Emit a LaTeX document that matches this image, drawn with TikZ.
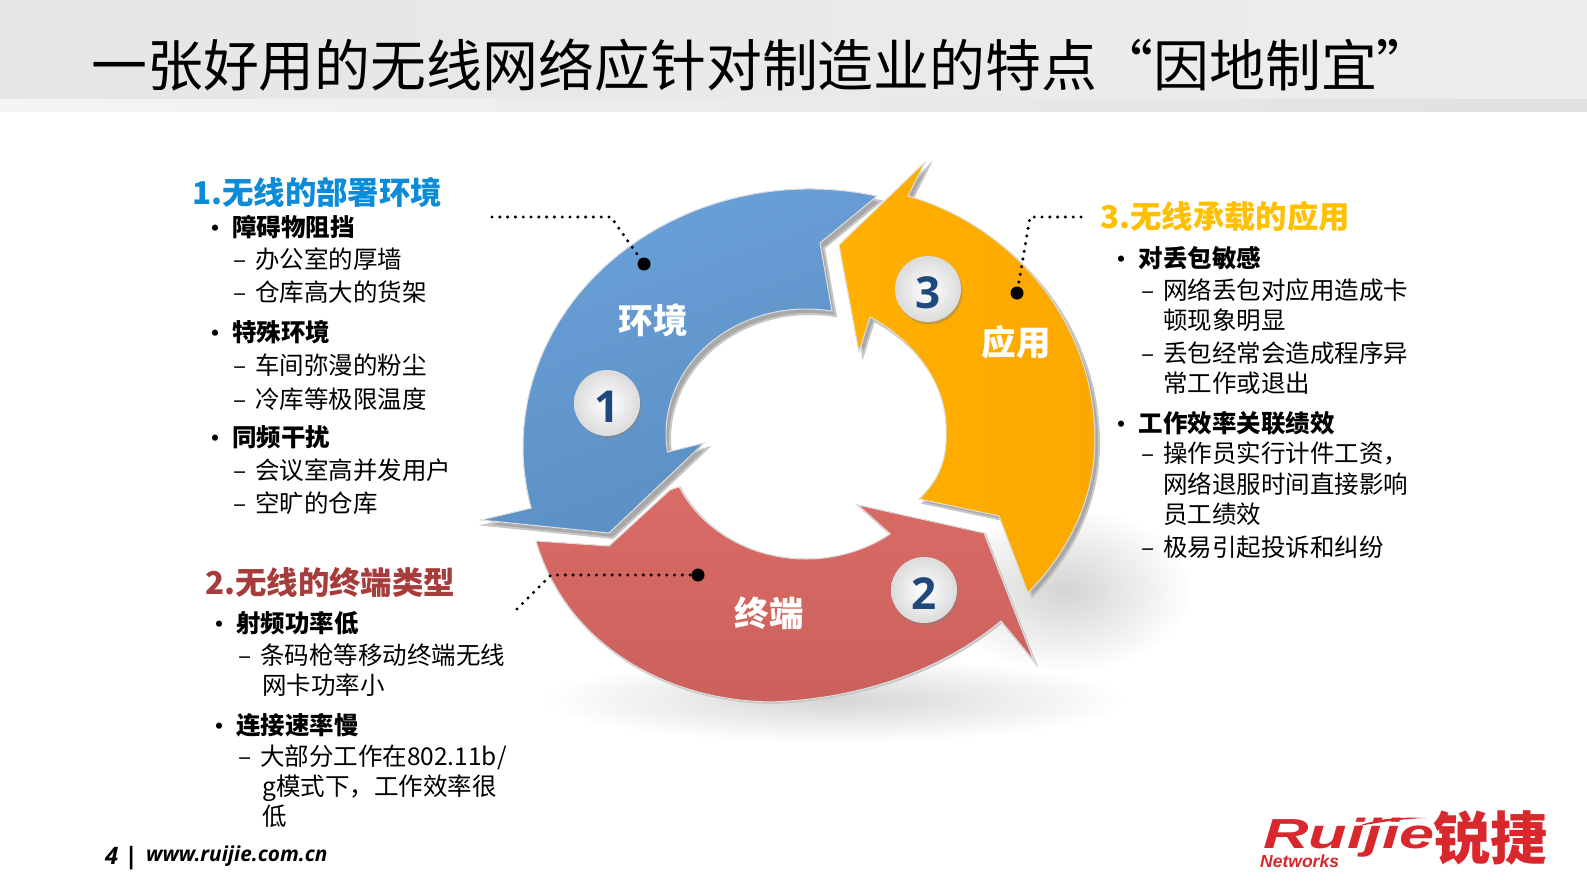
\documentclass[tikz,border=0pt]{standalone}
\usepackage{fontspec}
\usepackage{graphicx}
\setmainfont{Noto Sans CJK SC}
\newfontfamily\logofont{Liberation Sans}
\newfontfamily\numfont{Open Sans}
\usetikzlibrary{positioning,shadows,fadings}
\tikzfading[name=softblob,inner color=transparent!0,outer color=transparent!100]
\definecolor{ring_blue_a}{HTML}{6BA2DA}
\definecolor{ring_blue_b}{HTML}{5A8EC3}
\definecolor{ring_red_a}{HTML}{D96C66}
\definecolor{ring_red_b}{HTML}{CC605C}
\definecolor{ring_orange_a}{HTML}{FFB000}
\definecolor{ring_orange_b}{HTML}{FCA800}
\definecolor{head_blue}{HTML}{0C8CD8}
\definecolor{head_red}{HTML}{A63C3C}
\definecolor{head_orange}{HTML}{FFC000}
\definecolor{num_navy}{HTML}{1F497D}
\definecolor{logo_red}{HTML}{D8282E}
\newcommand{\bluepath}{([shift={(810,447)}]-76.5:287 and 258) arc[start angle=-76.5,end angle=-193.7,x radius=287,y radius=258] -- (481,520) -- (609,533) -- (704,443) -- ([shift={(806,434)}]-188.3:140 and 125) arc[start angle=-188.3,end angle=-79.3,x radius=140,y radius=125] -- (820,243) -- cycle}
\newcommand{\redpath}{(536,541) -- (609,546) -- (670,490) -- ([shift={(806,434)}]155:140 and 125) arc[start angle=155,end angle=53,x radius=140,y radius=125] -- (858,505) -- (984,533) -- (1034,661) -- (1001,621) .. controls (930,680) and (840,700) .. (770,702) .. controls (660,700) and (565,640) .. cycle}
\newcommand{\orangepath}{(925,162) -- (908,196) .. controls (1010,225) and (1095,320) .. (1095,440) .. controls (1095,490) and (1075,545) .. (1028,593) -- (999,516) -- (919,499) .. controls (950,470) and (946,440) .. (946,425) .. controls (944,375) and (905,335) .. (870,317) -- (859,352) -- (839,245) -- cycle}
\newcommand{\dashitem}[1]{\makebox[22pt][l]{–}#1}
\newcommand{\dotitem}[1]{\makebox[28pt][l]{\fontsize{22}{22}\selectfont •}#1}
\tikzset{
  bevelbase/.style={fill=black!34,draw=black!22,line width=2pt,line join=miter},
  ringedge/.style={draw=black!12,line width=1pt},
  ringnum/.style={circle,minimum size=66pt,inner sep=0pt,inner color=white,outer color=black!14,drop shadow={opacity=0.45,shadow xshift=1.5pt,shadow yshift=-2.5pt},text=num_navy,text height=38pt,text depth=0pt,font=\numfont\fontsize{44}{44}\selectfont\bfseries},
  ringlabel/.style={text=white,font=\fontsize{34.5}{34.5}\selectfont\bfseries,inner sep=0pt},
  leaddot/.style={circle,fill=black,minimum size=13pt,inner sep=0pt},
  leadline/.style={line width=3.4pt,line cap=round,dash pattern=on 0pt off 7.8pt},
  headtext/.style={anchor=west,inner sep=0pt,font=\fontsize{31.4}{31.4}\selectfont\bfseries},
  maintext/.style={anchor=west,inner sep=0pt,font=\fontsize{24.5}{24.5}\selectfont},
  boldtext/.style={anchor=west,inner sep=0pt,font=\fontsize{24.5}{24.5}\selectfont\bfseries}
}
\begin{document}
\begin{tikzpicture}[x=1pt,y=-1pt]
\useasboundingbox (0,0) rectangle (1587,892);
\fill[white] (0,0) rectangle (1587,892);
% title band
\fill[left color=black!10,right color=black!7] (0,0) rectangle (1587,99);
\fill[left color=black!4,right color=black!12] (0,99) rectangle (1587,111);
\node[anchor=west,inner sep=0pt,font=\fontsize{55.9}{55.9}\selectfont] (title) at (91,65) {一张好用的无线网络应针对制造业的特点“因地制宜”};
% shadows
\fill[black!16,path fading=softblob] (835,700) ellipse [x radius=290,y radius=42];
\fill[black!17,path fading=softblob] (1065,590) ellipse [x radius=125,y radius=82];
% ring
\filldraw[bevelbase,shift={(4,5)}] \bluepath;
\filldraw[bevelbase,shift={(1,1)},fill=black!18] \redpath;
\filldraw[bevelbase,shift={(4,4)}] \orangepath;
\filldraw[ringedge,left color=ring_blue_a,right color=ring_blue_b,shading angle=20] \bluepath;
\filldraw[ringedge,top color=ring_red_a,bottom color=ring_red_b] \redpath;
\filldraw[ringedge,left color=ring_orange_a,right color=ring_orange_b] \orangepath;
\node[ringnum] (numone) at (607,403) {1};
\node[ringnum] (numtwo) at (924,590) {2};
\node[ringnum] (numthree) at (928,289) {3};
\node[ringlabel] (envlabel) at (653,320) {环境};
\node[ringlabel] (termlabel) at (769,613) {终端};
\node[ringlabel] (applabel) at (1016,342) {应用};
% leaders
\node[leaddot] (envdot) at (644,264) {};
\node[leaddot] (termdot) at (698,575) {};
\node[leaddot] (appdot) at (1017,293) {};
\coordinate (envend) at (492,217);
\coordinate (envbend) at (611,217);
\coordinate (termend) at (517,609);
\coordinate (termbend) at (551,575);
\coordinate (append) at (1081,217);
\coordinate (appbend) at (1030,217);
\draw[leadline] (envend) -- (envbend) -- (envdot);
\draw[leadline] (termend) -- (termbend) -- (termdot);
\draw[leadline] (append) -- (appbend) -- (appdot);
% left column
\node[headtext,text=head_blue] (envhead) at (192,192) {1.无线的部署环境};
\node[boldtext] (envb) at (204,227) {\dotitem{障碍物阻挡}};
\node[maintext] (enva) at (233,259) {\dashitem{办公室的厚墙}};
\node[maintext] (envc) at (233,292) {\dashitem{仓库高大的货架}};
\node[boldtext] (envd) at (204,332) {\dotitem{特殊环境}};
\node[maintext] (enve) at (233,365) {\dashitem{车间弥漫的粉尘}};
\node[maintext] (envf) at (233,399) {\dashitem{冷库等极限温度}};
\node[boldtext] (envg) at (204,437) {\dotitem{同频干扰}};
\node[maintext] (envh) at (233,470) {\dashitem{会议室高并发用户}};
\node[maintext] (envi) at (233,503) {\dashitem{空旷的仓库}};
\node[headtext,text=head_red] (termhead) at (205,582) {2.无线的终端类型};
\node[boldtext] (terma) at (208,623) {\dotitem{射频功率低}};
\node[maintext] (termb) at (238,655) {\dashitem{条码枪等移动终端无线}};
\node[maintext] (termc) at (262,685) {网卡功率小};
\node[boldtext] (termd) at (208,725) {\dotitem{连接速率慢}};
\node[maintext] (terme) at (238,757) {\dashitem{大部分工作在802.11b/}};
\node[maintext] (termf) at (262,788) {g模式下，工作效率很};
\node[maintext] (termg) at (262,816) {低};
% right column
\node[headtext,text=head_orange] (apphead) at (1100,216) {3.无线承载的应用};
\node[boldtext] (appa) at (1110.5,258) {\dotitem{对丢包敏感}};
\node[maintext] (appb) at (1141,290) {\dashitem{网络丢包对应用造成卡}};
\node[maintext] (appc) at (1163,320) {顿现象明显};
\node[maintext] (appd) at (1141,353) {\dashitem{丢包经常会造成程序异}};
\node[maintext] (appe) at (1163,383) {常工作或退出};
\node[boldtext] (appf) at (1110.5,423) {\dotitem{工作效率关联绩效}};
\node[maintext] (appg) at (1141,453) {\dashitem{操作员实行计件工资，}};
\node[maintext] (apph) at (1163,484) {网络退服时间直接影响};
\node[maintext] (appi) at (1163,514) {员工绩效};
\node[maintext] (appj) at (1141,547) {\dashitem{极易引起投诉和纠纷}};
% footer
\node[anchor=west,inner sep=0pt,font=\numfont\fontsize{24}{24}\selectfont\bfseries\itshape] (pagenum) at (105,858) {4 |};
\node[anchor=west,inner sep=0pt,font=\numfont\fontsize{20.8}{20.8}\selectfont\bfseries\itshape] (website) at (146,856) {www.ruijie.com.cn};
% logo
\fill[logo_red] (1358,826) .. controls (1380,818) and (1400,817) .. (1426,818) .. controls (1400,819) and (1382,822) .. cycle;
\node[anchor=base west,inner sep=0pt,text=logo_red,font=\logofont\fontsize{42}{42}\selectfont\bfseries\itshape] (logoname) at (1263,848) {\scalebox{1.5}[1]{Ruijie}};
\node[anchor=base west,inner sep=0pt,text=logo_red,font=\logofont\fontsize{17.5}{17.5}\selectfont\bfseries\itshape] (logonet) at (1260,867) {Networks};
\node[anchor=west,inner sep=0pt,text=logo_red,font=\fontsize{57}{57}\selectfont\bfseries] (logocn) at (1433,838) {锐捷};
\end{tikzpicture}
\end{document}
